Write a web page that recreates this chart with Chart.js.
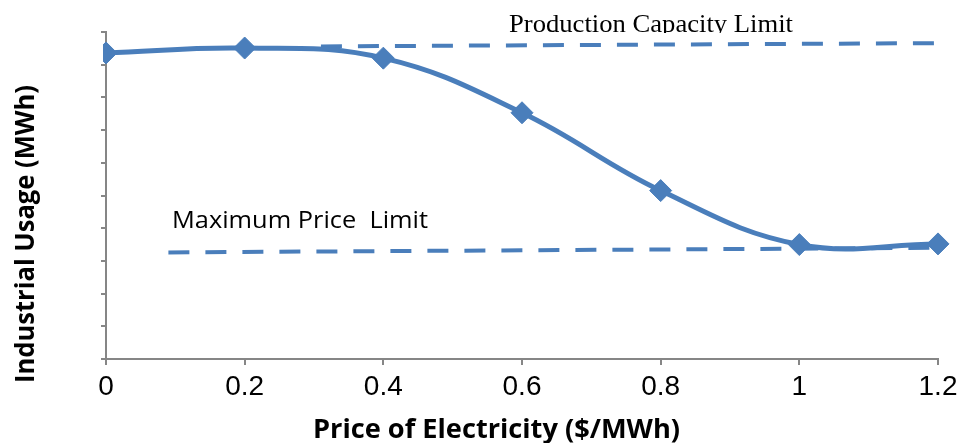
<!DOCTYPE html>
<html>
<head>
<meta charset="utf-8">
<script src="https://cdn.jsdelivr.net/npm/chart.js@4.4.1/dist/chart.umd.min.js"></script>
<style>
  html, body { margin: 0; padding: 0; background: #fff; }
  #wrap { width: 964px; height: 443px; position: relative; }
</style>
</head>
<body>
<div id="wrap"><canvas id="usageChart" width="964" height="443"></canvas></div>
<script>
// price of electricity ($/MWh) and industrial usage
const prices = [0, 0.2, 0.4, 0.6, 0.8, 1.0, 1.2];
const usage = [9.36, 9.51, 9.20, 7.53, 5.15, 3.50, 3.52];

// the two dashed limit lines (start, end)
const capacityX = [0.31, 1.2];
const capacityY = [9.56, 9.66];
const priceLimitX = [0.09, 1.2];
const priceLimitY = [3.26, 3.40];

const xTicks = [0, 0.2, 0.4, 0.6, 0.8, 1, 1.2];

const blue = '#4a7ebb';
const axisGrey = '#868686';

function toPoints(xs, ys) {
    return xs.map((x, i) => ({ x: x, y: ys[i] }));
}

// draws text squeezed/stretched to the given width (the original uses Calibri)
function fitText(ctx, text, font, x, y, width) {
    ctx.save();
    ctx.font = font;
    const w = ctx.measureText(text).width;
    ctx.translate(x, y);
    ctx.scale(width / w, 1);
    ctx.textAlign = 'left';
    ctx.textBaseline = 'alphabetic';
    ctx.fillText(text, 0, 0);
    ctx.restore();
}

const labelsPlugin = {
    id: 'labels',
    afterDraw(chart) {
        const ctx = chart.ctx;
        ctx.fillStyle = '#000';

        // axis titles
        fitText(ctx, 'Price of Electricity ($/MWh)', 'bold 27px "Open Sans"', 313, 438, 367);
        ctx.save();
        ctx.translate(34, 383);
        ctx.rotate(-Math.PI / 2);
        fitText(ctx, 'Industrial Usage (MWh)', 'bold 27px "Open Sans"', 0, 0, 298);
        ctx.restore();

        // line labels
        fitText(ctx, 'Maximum Price  Limit', '23px "Open Sans"', 172, 228, 256);
        ctx.save();
        ctx.beginPath();
        ctx.rect(0, 0, chart.width, 33);
        ctx.clip();
        fitText(ctx, 'Production Capacity Limit', '26px "Liberation Serif"', 509, 32, 284);
        ctx.restore();
    }
};

const ctx = document.getElementById('usageChart').getContext('2d');
new Chart(ctx, {
    type: 'scatter',
    data: {
        datasets: [
            {
                label: 'Industrial Usage',
                data: toPoints(prices, usage),
                showLine: true,
                borderColor: blue,
                backgroundColor: blue,
                borderWidth: 5,
                tension: 0.4,
                pointStyle: 'rectRot',
                pointRadius: 11,
                pointBorderWidth: 1,
                clip: { left: 3, top: false, right: false, bottom: false },
                order: 0
            },
            {
                label: 'Production Capacity Limit',
                data: toPoints(capacityX, capacityY),
                showLine: true,
                borderColor: blue,
                borderWidth: 4,
                borderDash: [21, 16],
                pointRadius: 0,
                order: 1
            },
            {
                label: 'Maximum Price Limit',
                data: toPoints(priceLimitX, priceLimitY),
                showLine: true,
                borderColor: blue,
                borderWidth: 4,
                borderDash: [21, 16],
                pointRadius: 0,
                order: 1
            }
        ]
    },
    options: {
        responsive: false,
        animation: false,
        layout: { padding: { top: 32, right: 26, left: 0, bottom: 0 } },
        plugins: {
            legend: { display: false },
            tooltip: { enabled: false }
        },
        scales: {
            x: {
                type: 'linear',
                min: 0,
                max: 1.2,
                afterBuildTicks: (scale) => { scale.ticks = xTicks.map(v => ({ value: v })); },
                afterFit: (scale) => { scale.height = 84; },
                border: { color: axisGrey, width: 2 },
                grid: { drawOnChartArea: false, drawTicks: true, tickLength: 6, color: axisGrey, lineWidth: 2 },
                ticks: {
                    color: '#000',
                    padding: 5,
                    maxRotation: 0,
                    font: { family: '"Liberation Sans Narrow", "Liberation Sans"', size: 28 },
                    callback: (v) => String(Math.round(v * 10) / 10)
                }
            },
            y: {
                type: 'linear',
                min: 0,
                max: 10,
                afterFit: (scale) => { scale.width = 106; },
                border: { color: axisGrey, width: 2 },
                grid: { drawOnChartArea: false, drawTicks: true, tickLength: 5, color: axisGrey, lineWidth: 2 },
                ticks: { stepSize: 1, padding: 0, callback: () => '' }
            }
        }
    },
    plugins: [labelsPlugin]
});
</script>
</body>
</html>
